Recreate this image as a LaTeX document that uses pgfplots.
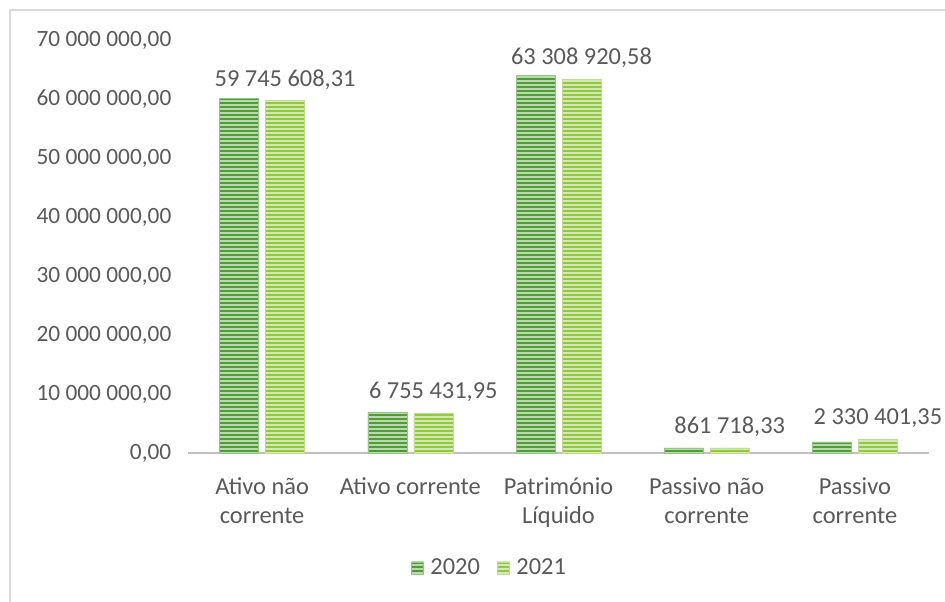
\documentclass[border=0pt]{standalone}
\usepackage{fontspec}
\setmainfont{Carlito}
\usepackage{pgfplots}
\pgfplotsset{compat=1.18}
\usetikzlibrary{patterns.meta}

\definecolor{gA}{RGB}{78,158,52}
\definecolor{gB}{RGB}{146,200,62}
\definecolor{txt}{RGB}{89,89,89}
\definecolor{axl}{RGB}{191,191,191}
\definecolor{frm}{RGB}{217,217,217}

\newcommand{\fs}{\fontsize{18.3}{22}\selectfont}
\newcommand{\fy}{\fontsize{17.5}{21}\selectfont}

\begin{document}
\begin{tikzpicture}
% page = 945 x 601 px, 1px = 0.75pt
\useasboundingbox (0,0) rectangle (708.75pt,450.75pt);
\draw[frm, line width=1.5pt] (7.5pt,-5pt) -- (7.5pt,443.25pt) -- (715pt,443.25pt);
\begin{axis}[
    at={(141pt,111pt)}, anchor=south west,
    scale only axis,
    width=555.75pt, height=309.75pt,
    ybar=5.25pt, bar width=29.25pt,
    xmin=-0.5, xmax=4.5, ymin=0, ymax=70000000,
    xtick=data,
    xticklabels={Ativo não\\corrente, Ativo corrente, Património\\Líquido, Passivo não\\corrente, Passivo\\corrente},
    xticklabel style={align=center, font=\fs, text=txt, yshift=-15pt},
    scaled y ticks=false,
    ytick={0,10000000,20000000,30000000,40000000,50000000,60000000,70000000},
    yticklabels={{0,00},{10 000 000,00},{20 000 000,00},{30 000 000,00},{40 000 000,00},{50 000 000,00},{60 000 000,00},{70 000 000,00}},
    yticklabel style={font=\fy, text=txt, xshift=-9pt},
    major tick length=0pt,
    axis lines*=left,
    y axis line style={draw=none},
    x axis line style={axl, line width=1.5pt, -},
    clip=false,
    legend columns=2,
    legend style={at={(0.4075,-0.278)}, anchor=center, draw=none, fill=none,
        font=\fs, text=txt,
        /tikz/every odd column/.append style={column sep=3pt},
        /tikz/every even column/.append style={column sep=11pt}},
    legend image code/.code={\fill[#1] (0pt,-4.5pt) rectangle (9pt,4.5pt);},
]
\addplot[fill=gA, draw=gA!60!white, line width=0.4pt,
    postaction={pattern={Lines[angle=0,distance=3pt,line width=1pt]}, pattern color=white!60!gA}]
    coordinates {(0,60050000) (1,6950000) (2,64000000) (3,870000) (4,1870000)};
\addplot[fill=gB, draw=gB!60!white, line width=0.4pt,
    postaction={pattern={Lines[angle=0,distance=3pt,line width=1pt]}, pattern color=white!60!gB},
    point meta=explicit symbolic,
    nodes near coords, nodes near coords style={font=\fs, text=txt, anchor=south, yshift=5pt}]
    coordinates {(0,59745608.31)[59 745 608,31] (1,6755431.95)[6 755 431,95] (2,63308920.58)[63 308 920,58] (3,861718.33)[861 718,33] (4,2330401.35)[2 330 401,35]};
\legend{2020,2021}
\end{axis}
\end{tikzpicture}
\end{document}
